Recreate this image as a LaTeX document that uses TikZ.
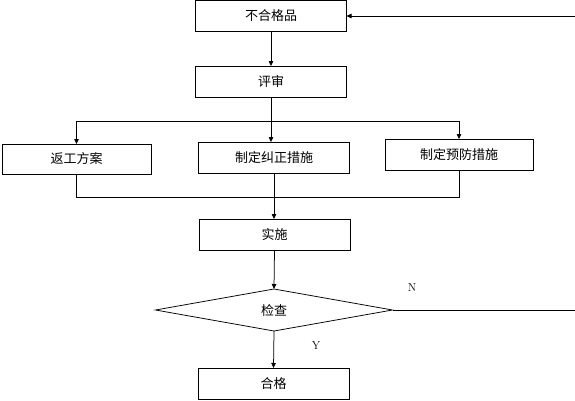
\documentclass[tikz,border=0pt]{standalone}
\usepackage{fontspec}
\newfontfamily\cjk{Noto Sans CJK SC}
\usetikzlibrary{arrows.meta,positioning,shapes.geometric}
\tikzset{
    stepbox/.style={draw, minimum width=151pt, minimum height=31pt, align=center,
    font=\cjk\fontsize{13}{15}\selectfont, inner sep=0pt, outer sep=0pt},
    checkbox/.style={draw, diamond, minimum width=237pt, minimum height=42pt, aspect=5.6,
    font=\cjk\fontsize{13}{15}\selectfont, inner sep=0pt, outer sep=0pt},
    ynlabel/.style={font=\fontsize{11.5}{13}\selectfont, inner sep=0pt},
}
\begin{document}
\begin{tikzpicture}[
            x=1pt, y=-1pt,
            line width=0.75pt,
            >={Triangle[length=5pt,width=4.5pt]}
        ]
            \useasboundingbox (0,0) rectangle (575,400);
            % main column
            \node[stepbox] (bhg) at (271,16) {不合格品};
            \node[stepbox] (ps) at (271,81.5) {评审};
            % three measures
            \node[stepbox, minimum width=149pt, minimum height=30pt] (fg) at (76.5,159) {返工方案};
            \node[stepbox] (jz) at (274,157.5) {制定纠正措施};
            \node[stepbox, minimum width=148pt] (yf) at (459,154.5) {制定预防措施};
            % lower column
            \node[stepbox] (ss) at (274.5,234.5) {实施};
            \node[checkbox] (jc) at (274,310) {检查};
            \node[stepbox] (hg) at (273.5,383.5) {合格};
            \node[ynlabel] (n) at (412,288) {N};
            \node[ynlabel] (y) at (316,346) {Y};
            \coordinate (sp) at ([yshift=-24pt]ps.south);
            \coordinate (mg) at ([yshift=-24pt]jz.south);
            \coordinate (back) at (575,16);
            \coordinate (nend) at (575,310);
            % arrows
            \draw[->] (bhg) -- (ps);
            \draw (fg.north |- sp) -- (yf.north |- sp);
            \draw[->] (fg.north |- sp) -- (fg.north);
            \draw[->] (yf.north |- sp) -- (yf.north);
            \draw[->] (ps.south) -- (ps.south |- jz.north);
            \draw (fg.south) -- (fg.south |- mg) -- (yf.south |- mg) -- (yf.south);
            \draw[->] (jz.south) -- (jz.south |- ss.north);
            \draw[->] (ss.south) -- (jc.north);
            \draw[->] (jc.south) -- (hg.north);
            \draw (jc.east) -- (nend);
            \draw[->] (back) -- (bhg.east);
        \end{tikzpicture}
\end{document}
